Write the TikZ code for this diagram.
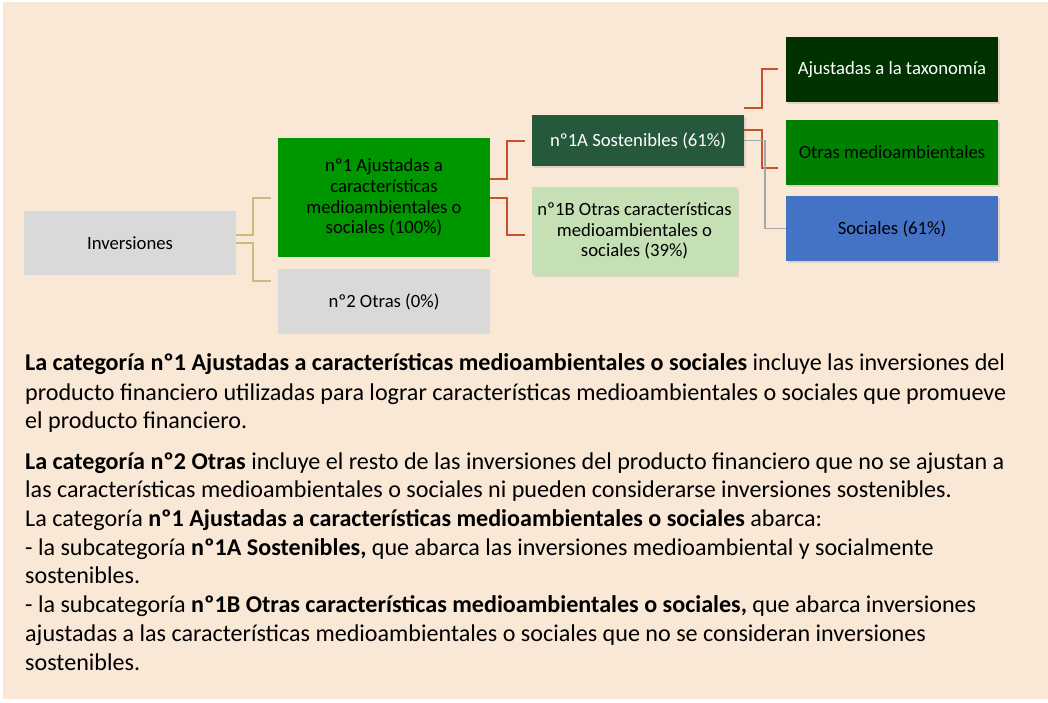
\documentclass[tikz,border=0pt]{standalone}
\usepackage{fontspec}
\setmainfont{Carlito}
\usetikzlibrary{shadows}
\definecolor{peach}{HTML}{FAE8D7}
\definecolor{gbox}{HTML}{D9D9D9}
\definecolor{greenA}{HTML}{009600}
\definecolor{greenS}{HTML}{26583C}
\definecolor{greenL}{HTML}{C5E0B4}
\definecolor{greenD}{HTML}{003200}
\definecolor{greenM}{HTML}{008000}
\definecolor{blueS}{HTML}{4472C4}
\definecolor{tanline}{HTML}{C9BC7C}
\definecolor{redline}{HTML}{C8502D}
\definecolor{grayline}{HTML}{A6A6A6}
\begin{document}
\begin{tikzpicture}[x=1pt,y=-1pt,
  box/.style={rectangle, inner sep=2pt, align=center, font=\fontsize{18.7}{20.7}\selectfont},
  sbox/.style={box, drop shadow={opacity=0.22, shadow xshift=1.5pt, shadow yshift=-2pt}},
  tanc/.style={draw=tanline, line width=2pt},
  redc/.style={draw=redline, line width=2pt},
  grayc/.style={draw=grayline, line width=1.6pt},
  para/.style={anchor=base west, inner sep=0pt, font=\fontsize{24.1}{29}\selectfont}]
\useasboundingbox (0,0) rectangle (1048,702);
\fill[white] (0,0) rectangle (1048,702);
\fill[peach] (3,2) rectangle (1048,699);

\node[box, fill=gbox, minimum width=212pt, minimum height=64pt] (inv) at (130,243) {Inversiones};
\node[box, fill=greenA, minimum width=212pt, minimum height=119pt] (n1) at (384,197.5) {nº1 Ajustadas a\\características\\medioambientales o\\sociales (100\%)};
\node[box, fill=gbox, minimum width=212pt, minimum height=65pt] (n2) at (384,301.5) {nº2 Otras (0\%)};
\node[sbox, fill=greenS, text=white, minimum width=212pt, minimum height=51pt] (n1a) at (638,140.5) {nº1A Sostenibles (61\%)};
\node[sbox, fill=greenL, minimum width=205pt, minimum height=88pt] (n1b) at (634.5,231) {nº1B Otras características\\medioambientales o\\sociales (39\%)};
\node[sbox, fill=greenD, text=white, minimum width=212pt, minimum height=65pt] (aj) at (892,69.3) {Ajustadas a la taxonomía};
\node[sbox, fill=greenM, minimum width=212pt, minimum height=65pt] (ot) at (892,152.5) {Otras medioambientales};
\node[sbox, fill=blueS, minimum width=212pt, minimum height=65pt] (so) at (892,228.5) {Sociales (61\%)};

\coordinate (ta) at (271,198);
\coordinate (tb) at (271,281);
\draw[tanc] ([yshift=8pt]inv.east) -- ++(17,0) |- (ta);
\draw[tanc] (inv.east) -- ++(17,0) |- (tb);
\coordinate (ra) at (524.5,140.7);
\coordinate (rb) at (524.5,235);
\draw[redc] ([yshift=19pt]n1.east) -- ++(17,0) |- (ra);
\draw[redc] (n1.east) -- ++(17,0) |- (rb);
\coordinate (rc) at (778,69.3);
\coordinate (rd) at (778,168.3);
\draw[redc] ([yshift=33pt]n1a.east) -- ++(18,0) |- (rc);
\draw[redc] ([yshift=10.5pt]n1a.east) -- ++(18,0) |- (rd);
\draw[grayc] (n1a.east) -- ++(21,0) |- (so.west);

\node[para] (p1) at (25,370.7) {\textbf{La categoría nº1 Ajustadas a características medioambientales o sociales} incluye las inversiones del};
\node[para] (p2) at (25,400) {producto financiero utilizadas para lograr características medioambientales o sociales que promueve};
\node[para] (p3) at (25,428.7) {el producto financiero.};
\node[para] (p4) at (25,469) {\textbf{La categoría nº2 Otras} incluye el resto de las inversiones del producto financiero que no se ajustan a};
\node[para] (p5) at (25,497.5) {las características medioambientales o sociales ni pueden considerarse inversiones sostenibles.};
\node[para] (p6) at (25,526) {La categoría \textbf{nº1 Ajustadas a características medioambientales o sociales} abarca:};
\node[para] (p7) at (25,555) {- la subcategoría \textbf{nº1A Sostenibles,} que abarca las inversiones medioambiental y socialmente};
\node[para] (p8) at (25,583.5) {sostenibles.};
\node[para] (p9) at (25,612.5) {- la subcategoría \textbf{nº1B Otras características medioambientales o sociales,} que abarca inversiones};
\node[para] (p10) at (25,641.5) {ajustadas a las características medioambientales o sociales que no se consideran inversiones};
\node[para] (p11) at (25,670.5) {sostenibles.};
\end{tikzpicture}
\end{document}
